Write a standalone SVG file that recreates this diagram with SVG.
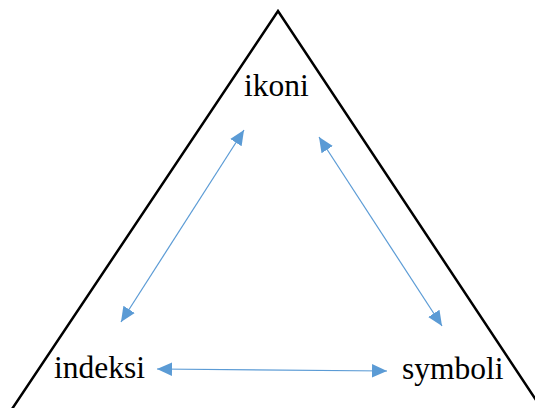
<svg xmlns="http://www.w3.org/2000/svg" width="535" height="408" viewBox="0 0 535 408">
<style>
.lbl{font-family:"Liberation Serif","Times New Roman",serif;font-size:31.5px;fill:#000}
.tri{fill:none;stroke:#000;stroke-width:2.5}
.con{stroke:#5B9BD5;stroke-width:1.2;fill:none;marker-start:url(#ah);marker-end:url(#ah)}
</style>
<defs>
<marker id="ah" viewBox="0 0 10 10" refX="10" refY="5" markerWidth="15" markerHeight="15" markerUnits="userSpaceOnUse" orient="auto-start-reverse">
<path d="M0,0.5 L10,5 L0,9.5 z" fill="#5B9BD5"/>
</marker>
</defs>
<rect width="535" height="408" fill="#fff"/>
<g id="frame">
<polyline class="tri" points="10,412 278,11 544,412"/>
</g>
<g id="connectors">
<line class="con" x1="244" y1="130" x2="121" y2="322"/>
<line class="con" x1="319" y1="137" x2="442" y2="326"/>
<line class="con" x1="157" y1="369" x2="387" y2="371"/>
</g>
<g id="ikoni"><text class="lbl" x="244" y="96">ikoni</text></g>
<g id="indeksi"><text class="lbl" x="54" y="378">indeksi</text></g>
<g id="symboli"><text class="lbl" x="402" y="379">symboli</text></g>
</svg>
